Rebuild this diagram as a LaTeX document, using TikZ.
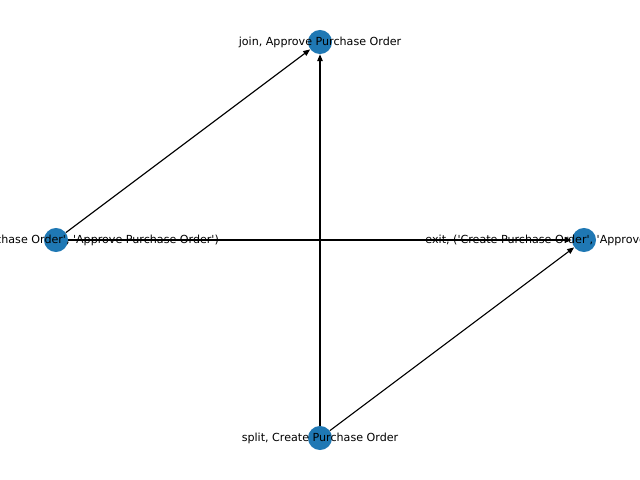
\documentclass[tikz,border=0pt]{standalone}
\usepackage{fontspec}
\setmainfont{DejaVu Sans}
\usetikzlibrary{arrows.meta}
\definecolor{NXBlue}{HTML}{1F78B4}
\newcommand{\sq}{\textquotesingle}
\begin{document}
\begin{tikzpicture}[x=0.72pt,y=-0.72pt,>={Triangle[length=5pt,width=4pt]},
  vertex/.style={circle,fill=NXBlue,draw=none,minimum size=17.3pt,inner sep=0pt},
  lbl/.style={font=\fontsize{8}{10}\selectfont,inner sep=0pt},
  edge/.style={->,line width=0.8pt,black}]
\clip (0,0) rectangle (640,480);
% nodes
\node[vertex] (join) at (320,42) {};
\node[vertex] (entry) at (56,240) {};
\node[vertex] (exit) at (584,240) {};
\node[vertex] (split) at (320,438) {};
% edges
\draw[edge] (entry) -- (join);
\draw[edge] (entry) -- (exit);
\draw[edge] (split) -- (join);
\draw[edge] (split) -- (exit);
% labels
\node[lbl] at (join) {join, Approve Purchase Order};
\node[lbl] at (entry) {entry, (\sq Create Purchase Order\sq, \sq Approve Purchase Order\sq)};
\node[lbl] at (exit) {exit, (\sq Create Purchase Order\sq, \sq Approve Purchase Order\sq)};
\node[lbl] at (split) {split, Create Purchase Order};
\end{tikzpicture}
\end{document}
